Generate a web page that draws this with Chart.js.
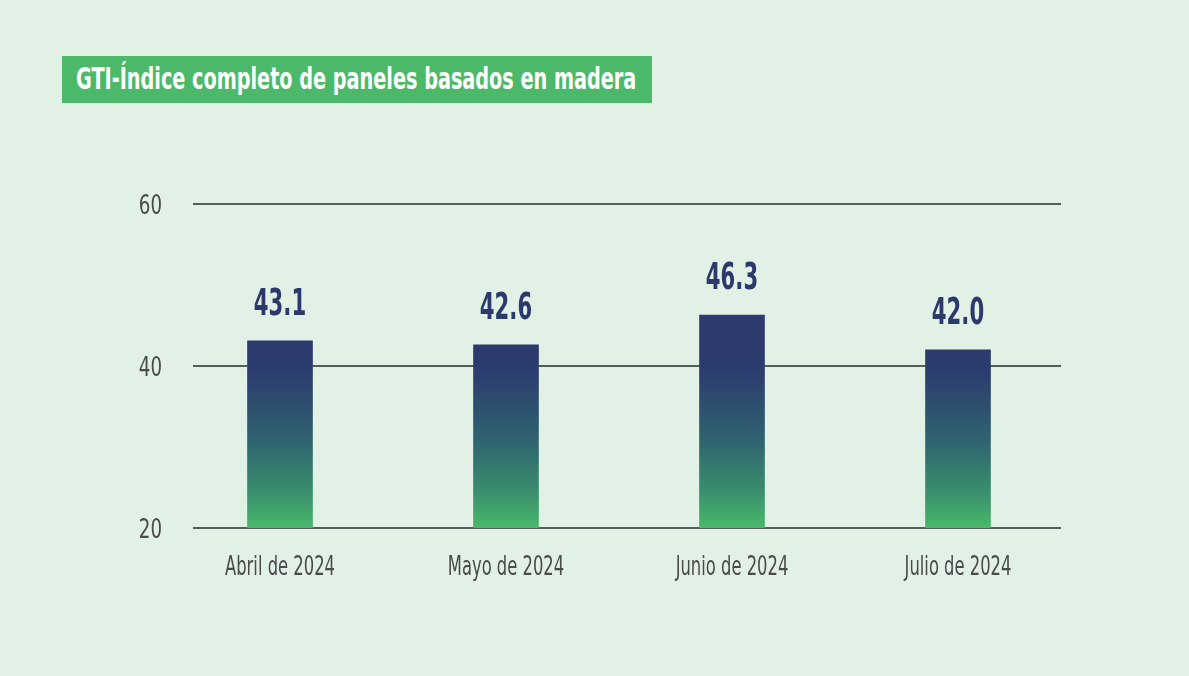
<!DOCTYPE html>
<html>
<head>
<meta charset="utf-8">
<script src="https://cdn.jsdelivr.net/npm/chart.js@4.4.1/dist/chart.umd.min.js"></script>
<style>
  html, body { margin: 0; padding: 0; background: #e1f1e6; }
  #wrap { position: relative; width: 1189px; height: 676px; }
  #title {
    position: absolute; left: 62px; top: 56px; width: 590px; height: 47px;
    background: #4cb96a; overflow: hidden;
  }
  #title span {
    position: absolute; left: 14px; top: 4px; line-height: 47px; color: #fff; white-space: nowrap;
    font: bold 31px "DejaVu Sans Condensed", "DejaVu Sans", sans-serif;
    transform: scaleX(0.69); transform-origin: 0 50%;
  }
  canvas { position: absolute; left: 0; top: 0; }
</style>
</head>
<body>
<div id="wrap">
  <canvas id="gtiChart" width="1189" height="676"></canvas>
  <div id="title"><span>GTI-Índice completo de paneles basados en madera</span></div>
</div>
<script>
var months = ['Abril de 2024', 'Mayo de 2024', 'Junio de 2024', 'Julio de 2024'];
var gtiValues = [43.1, 42.6, 46.3, 42.0];
var yTicks = [20, 40, 60];

var FONT = '"DejaVu Sans Condensed", "DejaVu Sans", sans-serif';

// the reference uses a narrow DIN-like face, so squeeze the text horizontally
function narrowText(ctx, text, x, y, align, sx) {
  ctx.save();
  ctx.translate(x, y);
  ctx.scale(sx, 1);
  ctx.textAlign = align;
  ctx.fillText(text, 0, 0);
  ctx.restore();
}

var barDecor = {
  id: 'barDecor',
  beforeDatasetsDraw: function (chart) {
    var ctx = chart.ctx, area = chart.chartArea, y = chart.scales.y;
    ctx.save();
    ctx.strokeStyle = '#555d59';
    ctx.lineWidth = 2;
    yTicks.forEach(function (t) {
      var py = Math.round(y.getPixelForValue(t));
      ctx.beginPath();
      ctx.moveTo(area.left + 26, py);
      ctx.lineTo(area.right - 10, py);
      ctx.stroke();
    });
    ctx.restore();
    var base = y.getPixelForValue(y.min);
    chart.getDatasetMeta(0).data.forEach(function (el, i) {
      var top = y.getPixelForValue(gtiValues[i]);
      var g = ctx.createLinearGradient(0, top, 0, base);
      g.addColorStop(0, '#2c3a6d');
      g.addColorStop(0.12, '#2c3c6e');
      g.addColorStop(0.5, '#2f6270');
      g.addColorStop(0.8, '#3a8f6e');
      g.addColorStop(1, '#49b96a');
      el.options.backgroundColor = g;
    });
  },
  afterDatasetsDraw: function (chart) {
    var ctx = chart.ctx, x = chart.scales.x, y = chart.scales.y, area = chart.chartArea;
    ctx.save();
    ctx.textBaseline = 'alphabetic';
    ctx.fillStyle = '#2b3a6b';
    ctx.font = 'bold 38px ' + FONT;
    chart.getDatasetMeta(0).data.forEach(function (el, i) {
      narrowText(ctx, gtiValues[i].toFixed(1), el.x, el.y - 26, 'center', 0.62);
    });
    ctx.fillStyle = '#4a4a4a';
    ctx.font = '26px ' + FONT;
    months.forEach(function (m, i) {
      narrowText(ctx, m, x.getPixelForValue(i), area.bottom + 47, 'center', 0.7);
    });
    ctx.font = '27px ' + FONT;
    yTicks.forEach(function (t) {
      narrowText(ctx, String(t), area.left - 5, y.getPixelForValue(t) + 10, 'right', 0.75);
    });
    ctx.restore();
  }
};

var ctx = document.getElementById('gtiChart').getContext('2d');
new Chart(ctx, {
  type: 'bar',
  data: {
    labels: months,
    datasets: [{ data: gtiValues, barThickness: 65, backgroundColor: '#2c3a6d' }]
  },
  options: {
    responsive: false,
    animation: false,
    layout: { padding: { left: 107, right: 118, top: 204, bottom: 68 } },
    plugins: { legend: { display: false }, tooltip: { enabled: false } },
    scales: {
      x: {
        grid: { display: false, drawTicks: false },
        border: { display: false },
        ticks: { display: false },
        afterFit: function (s) { s.height = 80; }
      },
      y: {
        min: 20, max: 60,
        grid: { display: false, drawTicks: false },
        border: { display: false },
        ticks: { display: false, stepSize: 20 },
        afterFit: function (s) { s.width = 60; }
      }
    }
  },
  plugins: [barDecor]
});
</script>
</body>
</html>
